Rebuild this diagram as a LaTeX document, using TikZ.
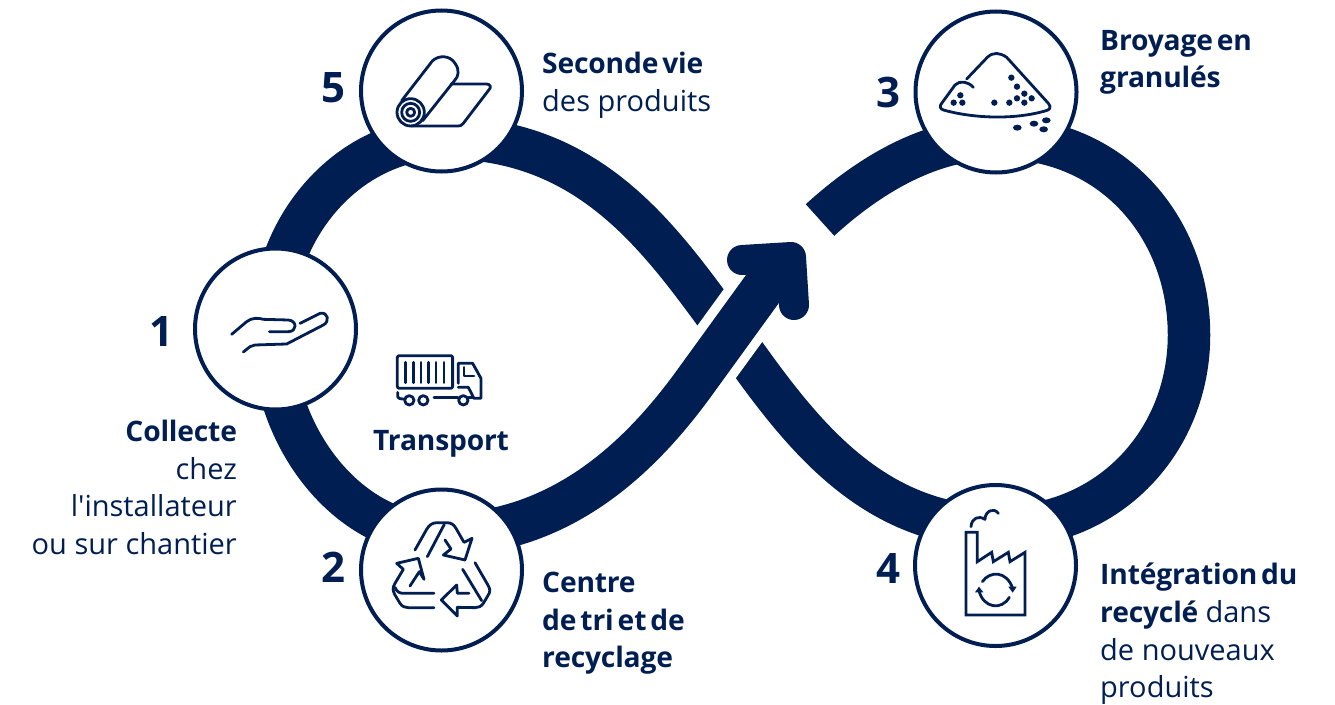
\documentclass[tikz,border=0pt]{standalone}
\usepackage{fontspec}
\setmainfont[BoldFeatures={WordSpace=0.55,LetterSpace=-0.6}]{Open Sans}
\newfontfamily\plainf{Open Sans}
\definecolor{navy}{RGB}{0,30,82}
\newcommand{\rg}{\fontsize{29}{37.6}\selectfont}
\tikzset{
  band/.style={draw=navy,line width=42.5pt,line cap=butt},
  ring/.style={circle,draw=navy,line width=4pt,fill=white,minimum size=161pt,inner sep=0pt},
  num/.style={text=navy,font=\fontsize{42}{42}\selectfont\bfseries,inner sep=0pt,anchor=center},
  lab/.style={text=navy,font=\fontsize{28.2}{37.6}\selectfont,inner sep=0pt,anchor=north west,align=left},
  labr/.style={lab,anchor=north east,align=right},
  ico/.style={draw=navy,line width=2.8pt,line cap=round,line join=round},
  dot/.style={fill=navy,draw=none},
}
\begin{document}
\begin{tikzpicture}[x=1pt,y=-1pt]
\useasboundingbox (0,0) rectangle (1335,704);
% infinity band
\draw[band] (820,220) .. controls (875,170) and (935,138) .. (1000,138)
  .. controls (1110,138) and (1189,225) .. (1189,335)
  .. controls (1189,440) and (1110,527) .. (1000,527)
  .. controls (880,527) and (810,445) .. (749,360)
  -- (711,308)
  .. controls (650,225) and (580,138) .. (445,138)
  .. controls (350,138) and (272,225) .. (272,329)
  .. controls (272,440) and (350,535) .. (440,535);
\draw[draw=white,line width=62pt] (670,416) -- (795,244);
% arrow
\draw[band,line width=43pt] (440,535) .. controls (560,535) and (640,458) .. (695,382) -- (782,262);
\draw[draw=navy,line width=30pt,line cap=round,line join=round] (742,260) -- (791,257) -- (794,305);
% circles
\node[ring] (c5) at (441.5,91) {};
\node[ring] (c3) at (996,92) {};
\node[ring] (c1) at (275.5,329) {};
\node[ring] (c2) at (441.5,570) {};
\node[ring] (c4) at (995.5,565.5) {};
% numbers
\node[num] (n1) at (161,332) {1};
\node[num] (n2) at (333,567) {2};
\node[num] (n3) at (888,92) {3};
\node[num] (n4) at (888,568) {4};
\node[num] (n5) at (333,88) {5};
% labels
\node[lab] (t5) at (542,52) {\textbf{Seconde vie}\\\rg des produits};
\node[lab] (t3) at (1100,30) {\textbf{Broyage en}\\\textbf{granulés}};
\node[lab] (t2) at (542,572) {\textbf{Centre}\\\textbf{de tri et de}\\\textbf{recyclage}};
\node[lab] (t4) at (1100,563) {\textbf{Intégration du}\\\textbf{recyclé} {\rg dans}\\\rg de nouveaux\\\rg produits};
\node[labr] (t1) at (237,420) {\textbf{Collecte}\\\rg chez\\\rg l{\plainf '}installateur\\\rg ou sur chantier};
\node[lab,anchor=center] (tt) at (441,444) {\textbf{Transport}};
% roll icon
\begin{scope}[shift={(350,0)},x=0.3333pt,y=-0.3333pt]
\draw[ico] (182,337) circle (41) (182,337) circle (27) (182,337) circle (12);
\draw[ico] (155,302) -- (247,183) .. controls (265,165) and (300,165) .. (315,190)
  .. controls (330,210) and (325,230) .. (315,240) -- (218,362);
\draw[ico] (303,252) -- (410,252) .. controls (420,252) and (425,262) .. (418,268) -- (340,370)
  .. controls (335,377) and (330,378) .. (325,378) -- (185,378);
\end{scope}
% pile icon
\begin{scope}[shift={(900,0)},x=0.3333pt,y=-0.3333pt]
\draw[ico] (200,237) -- (262,172) .. controls (280,155) and (300,158) .. (320,172) -- (445,310)
  .. controls (455,322) and (450,330) .. (435,333) .. controls (340,360) and (220,355) .. (130,330)
  .. controls (120,327) and (118,318) .. (125,310) -- (165,255) .. controls (180,240) and (205,245) .. (220,262);
\foreach \p in {(161,308),(187,308),(181,286),(283,308),(328,308),(351,295),(373,308),(373,281),(395,295),(351,260),(334,233)}
  \fill[dot] \p circle (9.5);
\foreach \p in {(352,383),(402,371),(431,388),(439,361)}
  \fill[dot] \p ellipse (13 and 9);
\end{scope}
% recycle icon
\begin{scope}[shift={(350,480)},x=0.3333pt,y=-0.3333pt]
\draw[ico] (195,210) -- (230,148) .. controls (238,134) and (248,128) .. (262,128) -- (290,128)
  .. controls (305,128) and (312,135) .. (318,145) -- (342,187) -- (366,175) -- (345,240) -- (280,225) -- (303,207) -- (285,180);
\draw[ico] (232,230) -- (283,133);
\draw[ico] (180,318) -- (208,275) -- (222,298) -- (205,235) -- (140,250) -- (160,268) -- (135,310)
  .. controls (125,325) and (130,335) .. (135,345) -- (150,370) .. controls (157,380) and (165,383) .. (175,383) -- (252,383);
\draw[ico] (135,322) .. controls (140,335) and (148,340) .. (160,340) -- (252,340);
\draw[ico] (375,248) -- (412,312) .. controls (422,328) and (422,335) .. (412,350) -- (400,370)
  .. controls (393,380) and (385,383) .. (375,383) -- (322,382) -- (322,408) -- (274,360) -- (320,315) -- (322,340) -- (357,340);
\draw[ico] (338,268) -- (395,362);
\end{scope}
% factory icon
\begin{scope}[shift={(905,480)},x=0.3333pt,y=-0.3333pt]
\draw[ico,line join=miter] (183,157) -- (183,405) -- (360,405) -- (360,217) -- (315,245) -- (310,217) -- (265,245) -- (260,217) -- (217,245) -- (217,157) -- cycle;
\draw[ico] (198,140) .. controls (200,115) and (220,105) .. (240,118) .. controls (240,95) and (265,80) .. (280,100);
\draw[ico] (232,305) .. controls (255,272) and (305,272) .. (323,325);
\draw[ico] (313,352) .. controls (290,392) and (235,385) .. (222,332);
\fill[dot] (310,320) -- (335,320) -- (323,338) -- cycle;
\fill[dot] (210,337) -- (235,337) -- (222,320) -- cycle;
\end{scope}
% hand and truck icons
\begin{scope}[shift={(190,240)},x=0.3333pt,y=-0.3333pt]
\draw[ico] (125,283) -- (170,245) .. controls (185,233) and (205,233) .. (220,238) -- (295,240)
  .. controls (322,242) and (322,275) .. (295,275) -- (238,275);
\draw[ico] (160,336) -- (180,320) .. controls (185,316) and (188,315) .. (195,315) -- (290,312) -- (400,255)
  .. controls (420,245) and (415,215) .. (390,220) -- (330,250);
\draw[ico,rounded corners=2pt] (622,347) rectangle (788,445);
\foreach \x in {647,670,693,715,738,762} \draw[ico] (\x,367) -- (\x,428);
\draw[ico] (805,430) -- (805,370) -- (848,370) -- (873,415) -- (873,475) -- (852,475) -- (835,442) -- (805,442);
\draw[ico] (822,382) -- (822,408) -- (852,408);
\draw[ico] (623,457) -- (623,470) .. controls (623,474) and (630,477) .. (640,477);
\draw[ico] (658,481) circle (14) (700,481) circle (14) (820,481) circle (14);
\draw[ico] (732,473) -- (804,473) (836,473) -- (850,473);
\end{scope}
\end{tikzpicture}
\end{document}
